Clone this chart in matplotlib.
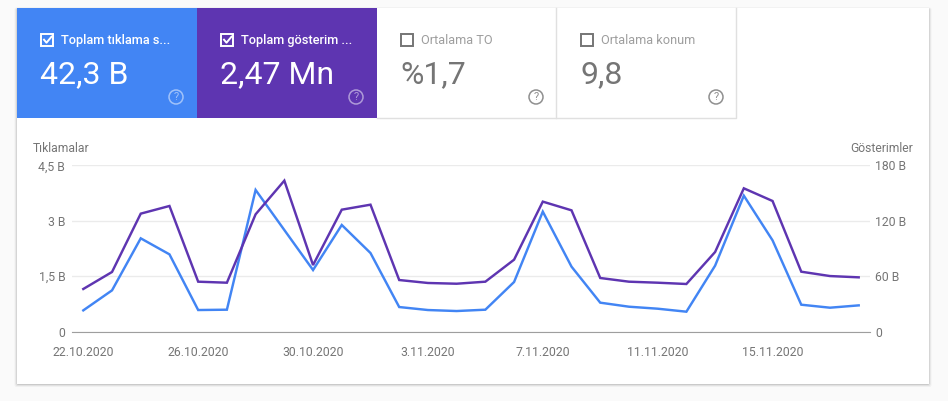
import pandas as pd
import matplotlib
matplotlib.use('Agg')
import matplotlib.pyplot as plt
from matplotlib.patches import Rectangle, Circle, FancyBboxPatch

plt.rcParams['font.family'] = ['Roboto', 'DejaVu Sans']

W, H = 948, 401

dates = pd.date_range('2020-10-22', periods=28)
clicks = [0.577, 1.118, 2.525, 2.092, 0.586, 0.595, 3.833, 2.75, 1.668, 2.886,
          2.128, 0.667, 0.586, 0.559, 0.595, 1.344, 3.247, 1.759, 0.785, 0.676,
          0.622, 0.541, 1.786, 3.679, 2.471, 0.730, 0.649, 0.712]
impressions = [46.2, 64.6, 127.7, 136, 54.1, 53, 127, 163.4, 72.1, 132,
               137.4, 55.9, 52.7, 51.9, 54.1, 77.9, 140.7, 131.3, 58.1, 54.1,
               53, 51.6, 86.2, 155.1, 141.4, 64.9, 60.2, 58.8]
left_ticks = [0, 1.5, 3, 4.5]
left_labels = ['0', '1,5 B', '3 B', '4,5 B']
right_ticks = [0, 60, 120, 180]
right_labels = ['0', '60 B', '120 B', '180 B']
tile_names = ['Toplam tıklama s...', 'Toplam gösterim ...', 'Ortalama TO', 'Ortalama konum']
tile_values = ['42,3 B', '2,47 Mn', '%1,7', '9,8']

BLUE = '#4285f4'
PURPLE = '#5e35b1'
GREY = '#757575'

fig = plt.figure(figsize=(W / 100, H / 100), dpi=100, facecolor='#fafafa')

# page layer in pixel coordinates, y going down
bg = fig.add_axes([0, 0, 1, 1])
bg.set_xlim(0, W)
bg.set_ylim(H, 0)
bg.axis('off')

# soft card shadow
for grow, alpha in [(3, 0.04), (2, 0.06), (1, 0.10)]:
    bg.add_patch(FancyBboxPatch((17 - grow + 0.5, 8.5 - grow / 3), 912 + 2 * grow - 1, 375.5 + 1.33 * grow,
                                boxstyle='round,pad=0,rounding_size=2',
                                fc='black', ec='none', alpha=alpha))
bg.add_patch(Rectangle((17, 8), 912, 376, fc='white', ec='none'))

tile_colors = [BLUE, PURPLE, 'white', 'white']
for i, name in enumerate(tile_names):
    x0 = 17 + 180 * i
    active = i < 2
    bg.add_patch(Rectangle((x0, 8), 180, 110, fc=tile_colors[i], ec='none'))
    txt = 'white' if active else GREY

    # checkbox
    bg.add_patch(Rectangle((x0 + 24.5, 33.7), 12, 12, fc='none',
                           ec='white' if active else GREY, lw=1.4))
    if active:
        bg.plot([x0 + 27, x0 + 29.5, x0 + 34.5], [39.7, 42.7, 36.7], color='white', lw=1.4)

    bg.text(x0 + 44, 40.3, name, color=txt if active else '#9e9e9e', fontsize=9.15,
            fontweight='medium' if active else 'normal', va='center', ha='left')
    bg.text(x0 + 23.5, 75, tile_values[i], color=txt, fontsize=23, va='center', ha='left')

    # help icon
    icon = '#ffffff' if active else '#8f8f8f'
    a = 0.5 if active else 1
    bg.add_patch(Circle((x0 + 159, 97), 7, fc='none', ec=icon, lw=1.1, alpha=a))
    bg.text(x0 + 159, 97.3, '?', color=icon, alpha=a, fontsize=8, ha='center', va='center')

# borders round the two white tiles
bg.plot([377, 736.5, 736.5], [118, 118, 8], color='#e0e0e0', lw=1)
bg.plot([556.5, 556.5], [8, 118], color='#e0e0e0', lw=1)

bg.text(33, 148.5, 'Tıklamalar', color=GREY, fontsize=8.75, ha='left', va='center')
bg.text(913, 148.5, 'Gösterimler', color=GREY, fontsize=8.75, ha='right', va='center')

# chart
px_left, px_right, px_top, px_bottom = 72.3, 869.7, 165.3, 331.7
ax = fig.add_axes([px_left / W, 1 - px_bottom / H,
                   (px_right - px_left) / W, (px_bottom - px_top) / H])
ax.patch.set_visible(False)
ax2 = ax.twinx()

xpos = list(range(len(dates)))
ax.set_xlim(-0.383, 27.383)
ax.set_ylim(0, 4.5)
ax2.set_ylim(0, 180)

ax.set_yticks(left_ticks, left_labels)
ax2.set_yticks(right_ticks, right_labels)
ax.set_xticks(xpos[::4], [f'{d.day}.{d.month}.{d.year}' for d in dates[::4]])
ax.grid(axis='y', color='#ebebeb', lw=1)
ax.set_axisbelow(True)

for a in (ax, ax2):
    for s in a.spines.values():
        s.set_visible(False)
    a.tick_params(length=0, labelcolor=GREY, labelsize=8.8)
ax.spines['bottom'].set_visible(True)
ax.spines['bottom'].set_color('#9e9e9e')
ax.tick_params(axis='y', pad=5)
ax2.tick_params(axis='y', pad=4)
ax.tick_params(axis='x', pad=10.5)

ax.plot(xpos, clicks, color=BLUE, lw=1.75, solid_joinstyle='miter')
ax2.plot(xpos, impressions, color=PURPLE, lw=1.75, solid_joinstyle='miter')

fig.savefig('out.png', dpi=100, facecolor=fig.get_facecolor())
